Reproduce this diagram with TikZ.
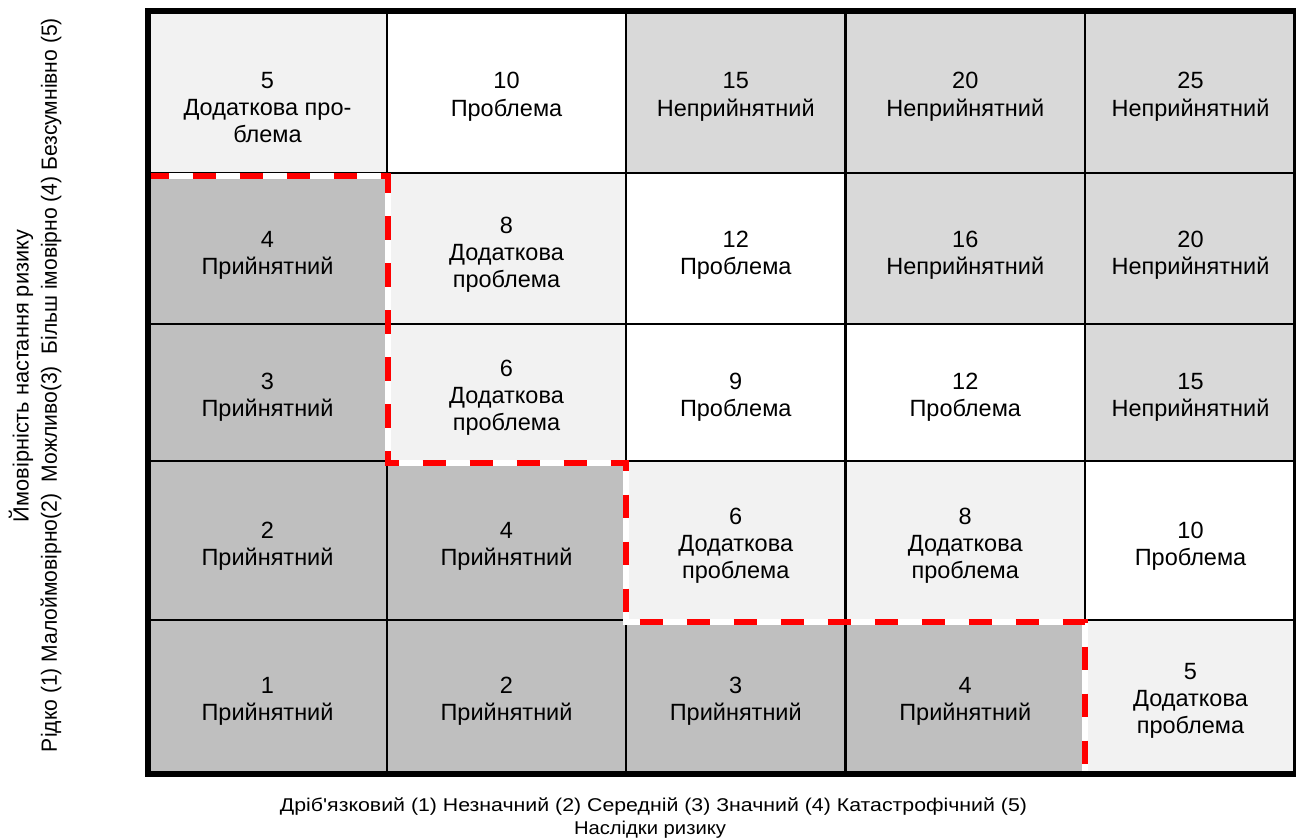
\documentclass[tikz,border=0pt]{standalone}
\usepackage{graphicx}
\usepackage{fontspec}
\setmainfont{Liberation Sans}
\definecolor{lg}{HTML}{F2F2F2}
\definecolor{mg}{HTML}{D9D9D9}
\definecolor{dg}{HTML}{BFBFBF}
\definecolor{wt}{HTML}{FFFFFF}
\definecolor{rd}{HTML}{FF0000}
\begin{document}
\begin{tikzpicture}[x=1pt,y=-1pt,
  celltext/.style={align=center, font=\fontsize{23.5}{27.2}\selectfont, inner sep=0pt, text=black},
  gridline/.style={black, line width=2.3pt},
  border/.style={black, line width=6pt},
  axistext/.style={inner sep=0pt, font=\fontsize{22}{26}\selectfont},
  redunder/.style={wt, line width=6pt},
  redover/.style={rd, line width=6pt, dash pattern=on 23.5pt off 23.5pt, dash phase=5.5pt}]
\useasboundingbox (0,0) rectangle (1296,839);
\def\xs{{148,387,626,845.5,1085,1296}}
\def\ys{{10.5,173,324,461,620,774}}
\def\rowoff{{5,6.5,5,5.5,4}}
\def\celllist{
 1/1/lg/10.5/{5\\Додаткова про-\\блема}/a11,
 2/1/wt/0/{10\\Проблема}/a12,
 3/1/mg/0/{15\\Неприйнятний}/a13,
 4/1/mg/0/{20\\Неприйнятний}/a14,
 5/1/mg/0/{25\\Неприйнятний}/a15,
 1/2/dg/0/{4\\Прийнятний}/a21,
 2/2/lg/0/{8\\Додаткова\\проблема}/a22,
 3/2/wt/0/{12\\Проблема}/a23,
 4/2/mg/0/{16\\Неприйнятний}/a24,
 5/2/mg/0/{20\\Неприйнятний}/a25,
 1/3/dg/0/{3\\Прийнятний}/a31,
 2/3/lg/0/{6\\Додаткова\\проблема}/a32,
 3/3/wt/0/{9\\Проблема}/a33,
 4/3/wt/0/{12\\Проблема}/a34,
 5/3/mg/0/{15\\Неприйнятний}/a35,
 1/4/dg/0/{2\\Прийнятний}/a41,
 2/4/dg/0/{4\\Прийнятний}/a42,
 3/4/lg/0/{6\\Додаткова\\проблема}/a43,
 4/4/lg/0/{8\\Додаткова\\проблема}/a44,
 5/4/wt/0/{10\\Проблема}/a45,
 1/5/dg/0/{1\\Прийнятний}/a51,
 2/5/dg/0/{2\\Прийнятний}/a52,
 3/5/dg/0/{3\\Прийнятний}/a53,
 4/5/dg/0/{4\\Прийнятний}/a54,
 5/5/lg/0/{5\\Додаткова\\проблема}/a55}
% cell fills
\foreach \c/\r/\f/\dy/\t/\n in \celllist {
  \pgfmathsetmacro\xa{\xs[\c-1]}
  \pgfmathsetmacro\xb{\xs[\c]}
  \pgfmathsetmacro\ya{\ys[\r-1]}
  \pgfmathsetmacro\yb{\ys[\r]}
  \fill[\f] (\xa,\ya) rectangle (\xb,\yb);
}
% grid
\foreach \x in {387,626,845.5,1085} \draw[gridline] (\x,10.5) -- (\x,774);
\foreach \y in {173,324,461,620} \draw[gridline] (148,\y) -- (1296,\y);
% red dashed boundary
\coordinate (d0) at (151,176);
\coordinate (d1) at (387.5,176);
\coordinate (d2) at (387.5,463);
\coordinate (d3) at (626,463);
\coordinate (d4) at (626,622);
\coordinate (d5) at (1085,622);
\coordinate (d6) at (1085,771);
\draw[redunder] (d0) -- (d1) -- (d2) -- (d3) -- (d4) -- (d5) -- (d6);
\draw[redover] (d0) -- (d1) -- (d2) -- (d3) -- (d4) -- (d5) -- (d6);
% border
\draw[border] (148,10.5) rectangle (1296,774);
% texts
\foreach \c/\r/\f/\dy/\t/\n in \celllist {
  \pgfmathsetmacro\xa{\xs[\c-1]}
  \pgfmathsetmacro\xb{\xs[\c]}
  \pgfmathsetmacro\ya{\ys[\r-1]}
  \pgfmathsetmacro\yb{\ys[\r]}
  \pgfmathsetmacro\ro{\rowoff[\r-1]}
  \pgfmathsetmacro\xm{(\xa+\xb)/2}
  \pgfmathsetmacro\ym{(\ya+\yb)/2+\ro+\dy}
  \node[celltext] (\n) at (\xm,\ym) {\t};
}
% axis labels
\node[axistext, rotate=90] (ylab1) at (21,376) {\resizebox{292pt}{\height}{Ймовірність настання ризику}};
\node[axistext, rotate=90] (ylab2) at (51,385) {\resizebox{734pt}{\height}{Рідко (1) Малоймовірно(2)\ \ Можливо(3)\ \ Більш імовірно (4) Безсумнівно (5)}};
\node[axistext, font=\fontsize{18.5}{22}\selectfont] (xlab1) at (653.5,807) {\resizebox{747pt}{\height}{Дріб\textquotesingle язковий (1) Незначний (2) Середній (3) Значний (4) Катастрофічний (5)}};
\node[axistext, font=\fontsize{18.5}{22}\selectfont] (xlab2) at (650,830) {\resizebox{152pt}{\height}{Наслідки ризику}};
\end{tikzpicture}
\end{document}
